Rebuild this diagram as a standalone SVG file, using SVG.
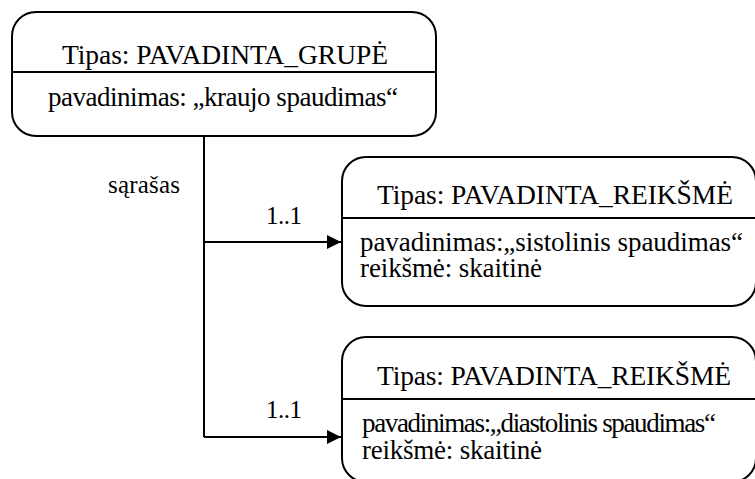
<svg xmlns="http://www.w3.org/2000/svg" width="755" height="479" viewBox="0 0 755 479">
  <style>
    .box { fill: #ffffff; stroke: #000000; stroke-width: 2; }
    .sep { stroke: #000000; stroke-width: 2; }
    .wire { fill: none; stroke: #000000; stroke-width: 2; }
    text { font-family: "Liberation Serif", "Times New Roman", serif; fill: #000000; }
    .title { font-size: 27.5px; }
    .body { font-size: 27px; }
    .lbl { font-size: 25px; }
  </style>
  <defs>
    <marker id="arrow" viewBox="0 0 14 14" refX="14" refY="7" markerWidth="14" markerHeight="14" markerUnits="userSpaceOnUse" orient="auto">
      <path d="M0,0 L14,7 L0,14 Z" fill="#000000"/>
    </marker>
  </defs>

  <!-- connectors -->
  <g id="connectors">
    <path class="wire" d="M204,136 V437"/>
    <path class="wire" d="M204,242 H341" marker-end="url(#arrow)"/>
    <path class="wire" d="M204,437 H341" marker-end="url(#arrow)"/>
    <text class="lbl" x="108" y="193" textLength="72">sąrašas</text>
    <text class="lbl" x="266" y="224" textLength="36">1..1</text>
    <text class="lbl" x="266" y="418" textLength="36">1..1</text>
  </g>

  <!-- group node -->
  <g id="grupe">
    <rect class="box" x="12" y="12" width="424" height="124" rx="24" ry="24"/>
    <line class="sep" x1="12" y1="72" x2="436" y2="72"/>
    <text class="title" x="62" y="64" textLength="326">Tipas: PAVADINTA_GRUPĖ</text>
    <text class="body" x="48" y="106" textLength="350">pavadinimas: „kraujo spaudimas“</text>
  </g>

  <!-- value node: systolic -->
  <g id="reiksme-sistolinis">
    <rect class="box" x="342" y="157" width="414" height="149" rx="24" ry="24"/>
    <line class="sep" x1="342" y1="218" x2="756" y2="218"/>
    <text class="title" x="377" y="204" textLength="356">Tipas: PAVADINTA_REIKŠMĖ</text>
    <text class="body" x="360" y="251" textLength="383">pavadinimas:„sistolinis spaudimas“</text>
    <text class="body" x="360" y="277" textLength="182">reikšmė: skaitinė</text>
  </g>

  <!-- value node: diastolic -->
  <g id="reiksme-diastolinis">
    <rect class="box" x="342" y="337" width="414" height="145" rx="24" ry="24"/>
    <line class="sep" x1="342" y1="399" x2="756" y2="399"/>
    <text class="title" x="377" y="385" textLength="354">Tipas: PAVADINTA_REIKŠMĖ</text>
    <text class="body" x="362" y="432" font-size="24" textLength="354">pavadinimas:„diastolinis spaudimas“</text>
    <text class="body" x="362" y="459" textLength="180">reikšmė: skaitinė</text>
  </g>
</svg>
